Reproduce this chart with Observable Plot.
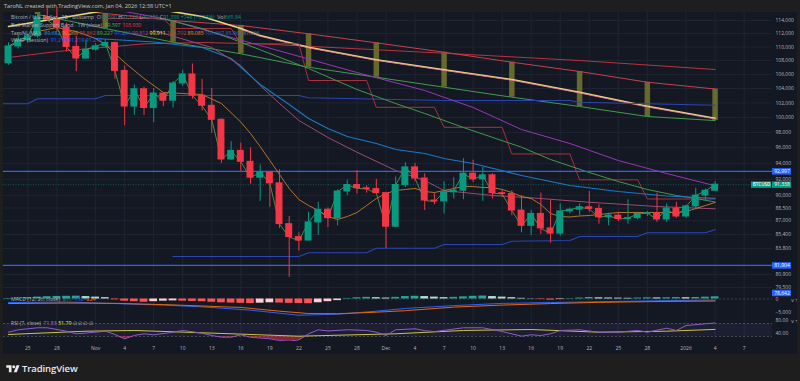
<!DOCTYPE html>
<html><head><meta charset="utf-8">
<script src="https://cdn.jsdelivr.net/npm/d3@7"></script>
<script src="https://cdn.jsdelivr.net/npm/@observablehq/plot@0.6"></script>
<style>
html,body{margin:0;padding:0;background:#1e1e1e;}
#root{position:relative;width:800px;height:381px;overflow:hidden;font-family:"Open Sans","Liberation Sans",sans-serif;}
#bg{position:absolute;left:3px;top:12px;width:794px;height:342px;background:#141823;}
.pane{position:absolute;left:0;}
.pane svg{display:block;overflow:visible;}
#hdr{position:absolute;left:4px;top:2px;font-size:5.6px;color:#c3c6ce;white-space:nowrap;}
.lg{position:absolute;left:11px;font-size:5.2px;color:#b2b5be;white-space:nowrap;line-height:6px;}
#logo{position:absolute;left:6px;top:362px;display:flex;align-items:center;gap:2px;color:#e9ebf0;font-size:9.5px;font-weight:600;letter-spacing:-0.1px;}
</style></head>
<body><div id="root">
<div id="bg"></div>
<div id="hdr">TaroNL created with TradingView.com, Jan 04, 2026 12:38 UTC+1</div>
<div class="pane" id="pMain" style="top:12px"></div>
<div class="pane" id="pMacd" style="top:295px"></div>
<div class="pane" id="pRsi" style="top:316px"></div>
<div class="pane" id="pTime" style="top:341px"></div>
<div class="lg" style="top:14px">Bitcoin / U.S. Dollar · 1D · Bitstamp&nbsp; O<span style="color:#089981">90,590</span> H<span style="color:#089981">91,728</span> L<span style="color:#089981">90,590</span> C<span style="color:#089981">91,338</span> <span style="color:#089981">+748 (+0.83%)</span>&nbsp; Vol<span style="color:#089981">665.84</span></div>
<div class="lg" style="top:22px">Bull Market Support Band · 1W (close)&nbsp; <span style="color:#4caf50">99,597</span> <span style="color:#f23645">103,930</span></div>
<div class="lg" style="top:30px">TaroNL MA's&nbsp; <span style="color:#2196f3">89,682</span> <span style="color:#e0912b">90,268</span> <span style="color:#c2404a">95,862</span> <span style="color:#4caf50">89,227</span> <span style="color:#2962ff">91,204</span> <span style="color:#b040c8">99,812</span> <span style="color:#ffeb3b">99,911</span> <span style="color:#c2404a">106,702</span> <span style="color:#e0912b">89,085</span> <span style="color:#3f5fd0">101,667</span> <span style="color:#3f5fd0">85,962</span> <span style="color:#787b86">87,066</span></div>
<div class="lg" style="top:37px">VWAP (Session)&nbsp; <span style="color:#2962ff">91,219</span> <span style="color:#2962ff">91,219</span> <span style="color:#2962ff">91,219</span></div>
<div class="lg" style="top:296px">MACD (12, 26, close)&nbsp; <span style="color:#26a69a">811</span> <span style="color:#2962ff">-132</span> <span style="color:#ff6d00">-224</span></div>
<div class="lg" style="top:320px">RSI (7, close)&nbsp; <span style="color:#a46bd6">71.53</span> <span style="color:#e6e04a">51.79</span> ∅ ∅ ∅ ∅</div>
<div id="logo"><svg width="14" height="9" viewBox="0 0 36 24"><path d="M14 22H7V10H0V3h14z" fill="#e9ebf0"/><circle cx="20" cy="7" r="4" fill="#e9ebf0"/><path d="M28 22h-8l7.5-19h8z" fill="#e9ebf0"/></svg>TradingView</div>
</div>
<script>
// ---------- DATA ----------
const dates = ["10-23","10-24","10-25","10-26","10-27","10-28","10-29","10-30","10-31","11-01","11-02","11-03","11-04","11-05","11-06","11-07","11-08","11-09","11-10","11-11","11-12","11-13","11-14","11-15","11-16","11-17","11-18","11-19","11-20","11-21","11-22","11-23","11-24","11-25","11-26","11-27","11-28","11-29","11-30","12-01","12-02","12-03","12-04","12-05","12-06","12-07","12-08","12-09","12-10","12-11","12-12","12-13","12-14","12-15","12-16","12-17","12-18","12-19","12-20","12-21","12-22","12-23","12-24","12-25","12-26","12-27","12-28","12-29","12-30","12-31","01-01","01-02","01-03","01-04"];
const open  = [107600,110070,111000,111600,114500,114100,112900,110000,108300,109600,110100,110600,106500,101500,103900,101300,103300,102300,104700,106000,103000,101600,99700,94500,95600,94200,92200,92900,91500,86600,85100,84700,86800,88300,87300,90500,91300,90900,90800,90300,86300,91300,93500,92100,89400,89300,90400,90600,92700,92000,92500,90300,90200,88200,86400,87800,86100,85500,88100,88300,88600,88400,87400,87600,87200,87300,87800,87900,87150,88450,87500,88700,90000,90590];
const high  = [110600,112000,111900,114800,116300,116000,113600,111600,111000,110500,111100,110700,107200,104500,104200,104000,103400,105000,106600,107500,105300,104000,99800,96800,96600,96000,93800,92900,93200,87500,85600,88000,89200,88500,90700,91900,93100,91200,92000,90400,92300,94100,94000,92700,90300,91700,92200,94600,94400,93500,92700,90600,90600,90000,88200,90300,89400,89000,88500,89000,90500,88900,87900,88000,89500,88000,88100,90300,89000,89200,88800,90900,90800,91728];
const low   = [107300,109700,110700,111300,113900,112300,109300,106400,108200,109400,109900,105300,98900,100300,100300,99300,101500,101300,104300,102500,100900,97900,94000,94400,93000,91400,89300,88600,86100,80600,83500,84700,85300,86200,86400,90000,90200,90300,90300,83800,86200,91000,91700,88200,88900,87800,89600,89500,91600,89300,89600,89800,87600,85600,85300,85400,84400,85200,87800,87600,88000,86600,86400,86900,86600,87100,87500,86800,86800,87300,87300,88300,89300,90590];
const close = [110070,111000,111600,114500,114100,112900,110000,108300,109600,110100,110600,106500,101500,103900,101300,103300,102300,104700,106000,103000,101600,99700,94500,95600,94200,92200,92900,91500,86600,85100,84700,86800,88300,87300,90500,91300,90900,90800,90300,86300,91300,93500,92100,89400,89300,90400,90600,92700,92000,92500,90300,90200,88200,86400,87800,86100,85500,88100,88300,88600,88400,87400,87600,87200,87300,87800,87900,87150,88450,87500,88700,90000,90590,91338];

const emaOrange = [["10-23",110070],["10-25",111260],["10-26",112318],["10-28",112926],["10-30",112320],["11-01",111260],["11-02",110365],["11-03",109032],["11-04",107715],["11-06",105413],["11-08",103440],["11-10",103300],["11-12",103160],["11-14",101918],["11-16",99400],["11-17",97871],["11-18",96168],["11-19",94368],["11-20",92601],["11-21",90867],["11-22",89528],["11-23",88806],["11-24",88208],["11-25",87497],["11-26",87143],["11-27",87497],["11-28",87970],["11-29",88806],["11-30",89648],["12-01",90256],["12-02",90622],["12-03",90744],["12-04",90867],["12-05",90500],["12-06",90378],["12-07",90622],["12-08",90867],["12-09",91113],["12-10",91113],["12-11",90990],["12-12",90990],["12-13",90744],["12-14",90378],["12-15",89892],["12-16",89648],["12-17",88926],["12-18",87851],["12-19",87497],["12-20",87438],["12-21",87556],["12-22",87615],["12-23",87733],["12-24",87851],["12-25",87970],["12-28",87970],["12-31",87970],["01-01",88089],["01-02",88447],["01-03",88806],["01-04",89166]];
const maMauve = [["11-07",112470],["11-13",109918],["11-16",107280],["11-18",104422],["11-20",101915],["11-22",99603],["11-25",97343],["11-28",95431],["12-02",93102],["12-05",91854],["12-07",90622],["12-12",90013],["12-16",89733],["12-22",89197],["12-29",88686],["01-04",88410]];
const maPurple = [["10-31",116500],["11-08",114308],["11-18",110216],["11-28",106270],["12-05",103720],["12-10",101367],["12-15",98401],["12-20",96558],["12-25",94368],["12-30",92726],["01-04",91204]];
const maCyan = [["11-01",111262],["11-07",110740],["11-12",109918],["11-15",108299],["11-18",104563],["11-21",101778],["11-22",100821],["11-23",99872],["11-25",98533],["11-27",97475],["11-30",96558],["12-02",95779],["12-05",95264],["12-07",94623],["12-10",93986],["12-15",92476],["12-20",91236],["12-25",90500],["12-30",89952],["01-04",89682]];
const maGreen = [["11-08",114308],["11-12",112774],["11-15",111262],["11-18",109578],["11-23",106846],["11-28",103860],["12-02",101915],["12-05",100549],["12-09",98666],["12-15",96077],["12-18",94495],["12-22",92851],["12-25",91730],["12-28",90744],["12-31",90013],["01-02",89648],["01-04",89227]];
const maYellow = [["10-23",113076],["10-28",114308],["11-02",115551],["11-07",115863],["11-12",114617],["11-16",112774],["11-18",111714],["11-23",109963],["11-30",108110],["12-07",106659],["12-14",105271],["12-21",103481],["12-28",101544],["01-04",99911]];
const maPink = [["11-16",112650],["11-18",111600],["11-23",109880],["11-30",108030],["12-07",106580],["12-14",105180],["12-21",103380],["12-28",101440],["01-04",99812]];
const maRed = [["10-23",108444],["10-28",109326],["11-06",110469],["11-12",110662],["11-18",110469],["12-07",109075],["12-21",108007],["01-04",106702]];
const bmsbDates = ["10-26","11-02","11-09","11-16","11-23","11-30","12-07","12-14","12-21","12-28","01-04"];
const bmsbUpper = [116177,115083,114000,113232,111971,110618,109222,107759,106414,104887,103930];
const bmsbLower = [114929,112774,110707,108988,107033,105598,104182,102785,101504,100143,99597];
const stepRed = [["11-02",114308],["11-08",114308],["11-09",112774],["11-15",112774],["11-16",110469],["11-22",110469],["11-23",105129],["11-29",105129],["11-30",101396],["12-06",101396],["12-07",98692],["12-13",98692],["12-14",95207],["12-20",95207],["12-21",91941],["12-27",91941],["12-28",89590],["01-04",89590]];
const blueUpper = [["10-22",101875],["10-25",101875],["10-26",102564],["11-01",102564],["11-02",103022],["11-22",103022],["11-23",102703],["12-07",102329],["12-20",102329],["12-21",102094],["01-04",101667]];
const blueLower = [["11-09",82897],["11-22",82897],["11-23",83313],["11-29",83313],["11-30",83831],["12-06",83831],["12-07",84252],["12-13",84252],["12-14",84627],["12-20",84707],["12-21",85166],["12-27",85166],["12-28",85593],["01-03",85593],["01-04",85962]];
const levels = [92997, 81904];
const lowLabel = 78642;
const priceTicks = [114000,112000,110000,108000,106000,104000,102000,100000,98000,96000,94000,92000,90000,88500,87000,85400,83800,80900,79500];

const macdHist = [200,350,500,700,850,950,1000,1050,900,700,500,-300,-800,-1000,-1200,-1000,-800,-700,-800,-900,-1000,-1200,-1400,-1500,-1600,-1700,-1550,-1400,-1500,-1600,-1700,-1750,-1400,-1000,-600,200,450,600,500,350,600,900,1000,900,700,500,600,800,1000,1100,900,700,500,250,100,-200,-400,-200,150,350,550,450,380,320,260,350,450,400,450,520,480,560,680,811];
const macdLine = [["10-23",-1316],["10-29",-1128],["11-03",-1692],["11-08",-2256],["11-12",-2895],["11-17",-4136],["11-22",-6016],["11-26",-5640],["11-30",-4512],["12-03",-3497],["12-08",-2444],["12-13",-1617],["12-18",-1316],["12-23",-1015],["12-29",-677],["01-04",-376]];
const signalLine = [["10-23",-1692],["10-29",-1504],["11-03",-1617],["11-08",-2068],["11-16",-3121],["11-20",-4512],["11-23",-5377],["11-26",-5452],["11-30",-4888],["12-03",-4324],["12-08",-3008],["12-13",-2256],["12-18",-1692],["12-23",-1241],["12-29",-940],["01-04",-752]];
const macdTicks = [0, -5000];

const rsiLine = [["10-23",43.2],["10-24",50.6],["10-26",56.8],["10-27",56.8],["10-29",46.3],["10-30",38.3],["11-01",43.2],["11-02",46.3],["11-03",36.2],["11-04",22.9],["11-05",33.1],["11-06",38.3],["11-07",35.2],["11-09",43.2],["11-10",48.5],["11-12",40.2],["11-13",33.1],["11-14",27.8],["11-15",27.8],["11-16",35.2],["11-17",27.8],["11-19",22.9],["11-20",17.7],["11-21",15.5],["11-22",19.8],["11-23",38.3],["11-24",50.6],["11-25",47],["11-27",50.6],["11-29",48.5],["11-30",43.2],["12-01",33.1],["12-02",50.6],["12-04",53.7],["12-05",48],["12-06",45],["12-09",56.8],["12-11",56.8],["12-13",45.4],["12-15",30.9],["12-16",35.2],["12-17",33.1],["12-18",38.3],["12-19",48.5],["12-21",50.6],["12-23",43.2],["12-25",43.2],["12-27",48.5],["12-28",43.2],["12-30",55.5],["12-31",48.5],["01-01",63.8],["01-03",69.1],["01-04",71.53]];
const rsiMA = [["10-23",36.2],["10-31",46.3],["11-05",48.5],["11-15",38.3],["11-22",30.9],["12-02",38.3],["12-09",48.5],["12-16",51.5],["12-23",43.2],["12-30",46.3],["01-04",51.79]];
const rsiBand = [30, 70];
const rsiTicks = [80, 40];

const timeTicks = ["10-25","10-28","11-01","11-04","11-07","11-10","11-13","11-16","11-19","11-22","11-25","11-28","12-01","12-04","12-07","12-10","12-13","12-16","12-19","12-22","12-25","12-28","01-01","01-04","01-07"];

// ---------- HELPERS ----------
const DAY = 864e5;
const parseMD = s => { const [m,d] = s.split("-").map(Number); return new Date(Date.UTC(m >= 10 ? 2025 : 2026, m-1, d)); };
const t0 = Date.UTC(2025, 9, 23);
const xDomain = [new Date(t0 - 0.517*DAY), new Date(t0 + 78.93*DAY)];
const xEnd = +xDomain[1];
const rows = pairs => pairs.map(([d, v]) => ({date: parseMD(d), v}));
const UP = "#089981", DN = "#f23645";
const candles = dates.map((d, i) => {
  const t = parseMD(d);
  return {date: t, x1: new Date(+t - 0.36*DAY), x2: new Date(+t + 0.36*DAY),
    open: open[i], high: high[i], low: low[i], close: close[i],
    b1: Math.min(open[i], close[i]), b2: Math.max(open[i], close[i]),
    color: close[i] >= open[i] ? UP : DN};
});
const bmsb = bmsbDates.map((d, i) => ({date: parseMD(d), lo: bmsbLower[i], hi: bmsbUpper[i]}));
const tTicks = timeTicks.map(parseMD);
const fmt = d3.format(",");
const W = 800, ML = 3, MR = 28;
const FONT = "'Open Sans','Liberation Sans',sans-serif";
const baseStyle = {background: "transparent", color: "#b2b5be", fontFamily: FONT, overflow: "visible"};
const GRID = "#1f2433";
const BOX = 6.5;
const lineM = (pairs, stroke, w = 1, extra = {}) => Plot.line(rows(pairs), {x: "date", y: "v", stroke, strokeWidth: w, clip: true, ...extra});
const last = close[close.length-1];

// ---------- MAIN PANE ----------
const main = Plot.plot({
  width: W, height: 283, marginTop: 0, marginBottom: 0, marginLeft: ML, marginRight: MR,
  x: {type: "utc", domain: xDomain, axis: null},
  y: {type: "log", domain: [78646, 115239]},
  style: baseStyle,
  marks: [
    Plot.gridX(tTicks, {stroke: GRID, strokeOpacity: 1}),
    Plot.gridY(priceTicks, {stroke: GRID, strokeOpacity: 1}),
    Plot.axisY(priceTicks, {anchor: "right", tickSize: 0, tickPadding: 3, tickFormat: fmt, fontSize: 5, fill: "#b2b5be"}),
    Plot.ruleX(bmsb, {x: "date", y1: "lo", y2: "hi", stroke: "#8a8a30", strokeOpacity: 0.7, strokeWidth: 5.5, clip: true}),
    lineM(maRed, "#b8343f", 1),
    lineM(bmsbDates.map((d,i)=>[d,bmsbUpper[i]]), "#c9404b", 1),
    lineM(bmsbDates.map((d,i)=>[d,bmsbLower[i]]), "#3f9d4c", 1),
    lineM(maYellow, "#ead97a", 1.6),
    lineM(maPink, "#e879a6", 0.8),
    lineM(blueUpper, "#2b46b0", 1.1),
    lineM(blueLower, "#2b46b0", 1.1),
    lineM(stepRed, "#a8303e", 1),
    lineM(maPurple, "#9a35b8", 1),
    lineM(maGreen, "#3f9a4a", 1),
    lineM(maCyan, "#1b78c8", 1.1),
    lineM(maMauve, "#9c4a76", 1),
    Plot.ruleY(levels, {stroke: "#2962ff", strokeWidth: 1.3}),
    Plot.ruleY([last], {stroke: UP, strokeWidth: 0.6, strokeDasharray: "1,1.5", strokeOpacity: 0.8}),
    lineM(emaOrange, "#d98a2b", 0.8),
    Plot.line(candles, {x: "date", y: "close", stroke: "#4caf50", strokeWidth: 0.8, clip: true}),
    Plot.ruleX(candles, {x: "date", y1: "low", y2: "high", stroke: "color", strokeWidth: 1}),
    Plot.rect(candles, {x1: "x1", x2: "x2", y1: "b1", y2: "b2", fill: "color", insetTop: -0.5, insetBottom: -0.5}),
    // right-side labels
    Plot.ruleY(levels, {y: d => d, x1: xEnd, x2: xEnd + 1.97*DAY, stroke: "#2962ff", strokeWidth: BOX}),
    Plot.text(levels, {y: d => d, x: xEnd + 0.98*DAY, text: d => fmt(d), fill: "white", fontSize: 5}),
    Plot.ruleY([lowLabel], {y: d => d, x1: xEnd, x2: xEnd + 1.97*DAY, stroke: "#2962ff", strokeWidth: BOX, dy: -2.6}),
    Plot.text([lowLabel], {y: d => d, x: xEnd + 0.98*DAY, text: d => fmt(d), fill: "white", fontSize: 5, dy: -2.6}),
    Plot.ruleY([last], {y: d => d, x1: xEnd, x2: xEnd + 1.97*DAY, stroke: UP, strokeWidth: BOX}),
    Plot.text([last], {y: d => d, x: xEnd + 0.98*DAY, text: d => fmt(d), fill: "white", fontSize: 5}),
    Plot.ruleY([last], {y: d => d, x1: xEnd - 2.17*DAY, x2: xEnd - 0.1*DAY, stroke: UP, strokeWidth: BOX}),
    Plot.text([last], {y: d => d, x: xEnd - 1.13*DAY, text: () => "BTCUSD", fill: "white", fontSize: 4.6, fontWeight: 600})
  ]
});
document.getElementById("pMain").appendChild(main);

// ---------- MACD PANE ----------
const histRows = macdHist.map((v, i) => {
  const t = parseMD(dates[i]); const prev = i ? macdHist[i-1] : v;
  const color = v >= 0 ? (v >= prev ? "#26a69a" : "#b2dfdb") : (v <= prev ? "#ff5252" : "#ffcdd2");
  return {x1: new Date(+t - 0.4*DAY), x2: new Date(+t + 0.4*DAY), v, color};
});
const macd = Plot.plot({
  width: W, height: 21, marginTop: 0, marginBottom: 0, marginLeft: ML, marginRight: MR,
  x: {type: "utc", domain: xDomain, axis: null},
  y: {domain: [-6481, 1296]},
  style: baseStyle,
  marks: [
    Plot.gridX(tTicks, {stroke: GRID, strokeOpacity: 1}),
    Plot.ruleY([0], {stroke: "#787b86", strokeOpacity: 0.6, strokeDasharray: "2,2", strokeWidth: 0.7}),
    Plot.axisY(macdTicks, {anchor: "right", tickSize: 0, tickPadding: 3, tickFormat: d => d === 0 ? "0" : "−" + fmt(-d), fontSize: 5, fill: "#b2b5be"}),
    Plot.rect(histRows, {x1: "x1", x2: "x2", y1: 0, y2: "v", fill: "color", clip: true}),
    lineM(macdLine, "#2962ff", 1),
    lineM(signalLine, "#e8660c", 1)
  ]
});
document.getElementById("pMacd").appendChild(macd);

// ---------- RSI PANE ----------
const rsiRows = rows(rsiLine);
const rsi = Plot.plot({
  width: W, height: 25, marginTop: 0, marginBottom: 0, marginLeft: ML, marginRight: MR,
  x: {type: "utc", domain: xDomain, axis: null},
  y: {domain: [14.6, 91.5]},
  style: baseStyle,
  marks: [
    Plot.gridX(tTicks, {stroke: GRID, strokeOpacity: 1}),
    Plot.rect([rsiBand], {x1: xDomain[0], x2: xDomain[1], y1: d => d[0], y2: d => d[1], fill: "#7e57c2", fillOpacity: 0.1}),
    Plot.ruleY(rsiBand, {stroke: "#787b86", strokeOpacity: 0.7, strokeDasharray: "2,2", strokeWidth: 0.7}),
    Plot.axisY(rsiTicks, {anchor: "right", tickSize: 0, tickPadding: 3, tickFormat: d => d.toFixed(2), fontSize: 5, fill: "#b2b5be"}),
    Plot.areaY(rsiRows, {x: "date", y1: rsiBand[0], y2: d => Math.min(d.v, rsiBand[0]), fill: "#f23645", fillOpacity: 0.5, clip: true}),
    lineM(rsiMA, "#c9c63c", 1),
    Plot.line(rsiRows, {x: "date", y: "v", stroke: "#8e5cc9", strokeWidth: 1, clip: true})
  ]
});
document.getElementById("pRsi").appendChild(rsi);

// ---------- TIME AXIS ----------
const tfmt = d => d.getUTCDate() === 1 ? (d.getUTCMonth() === 0 ? String(d.getUTCFullYear()) : d3.utcFormat("%b")(d)) : String(d.getUTCDate());
const time = Plot.plot({
  width: W, height: 13, marginTop: 0, marginBottom: 0, marginLeft: ML, marginRight: MR,
  x: {type: "utc", domain: xDomain, axis: null},
  style: baseStyle,
  marks: [
    Plot.text(tTicks, {x: d => d, frameAnchor: "middle", text: tfmt, fill: "#b2b5be", fontSize: 5})
  ]
});
document.getElementById("pTime").appendChild(time);
</script>
</body></html>
